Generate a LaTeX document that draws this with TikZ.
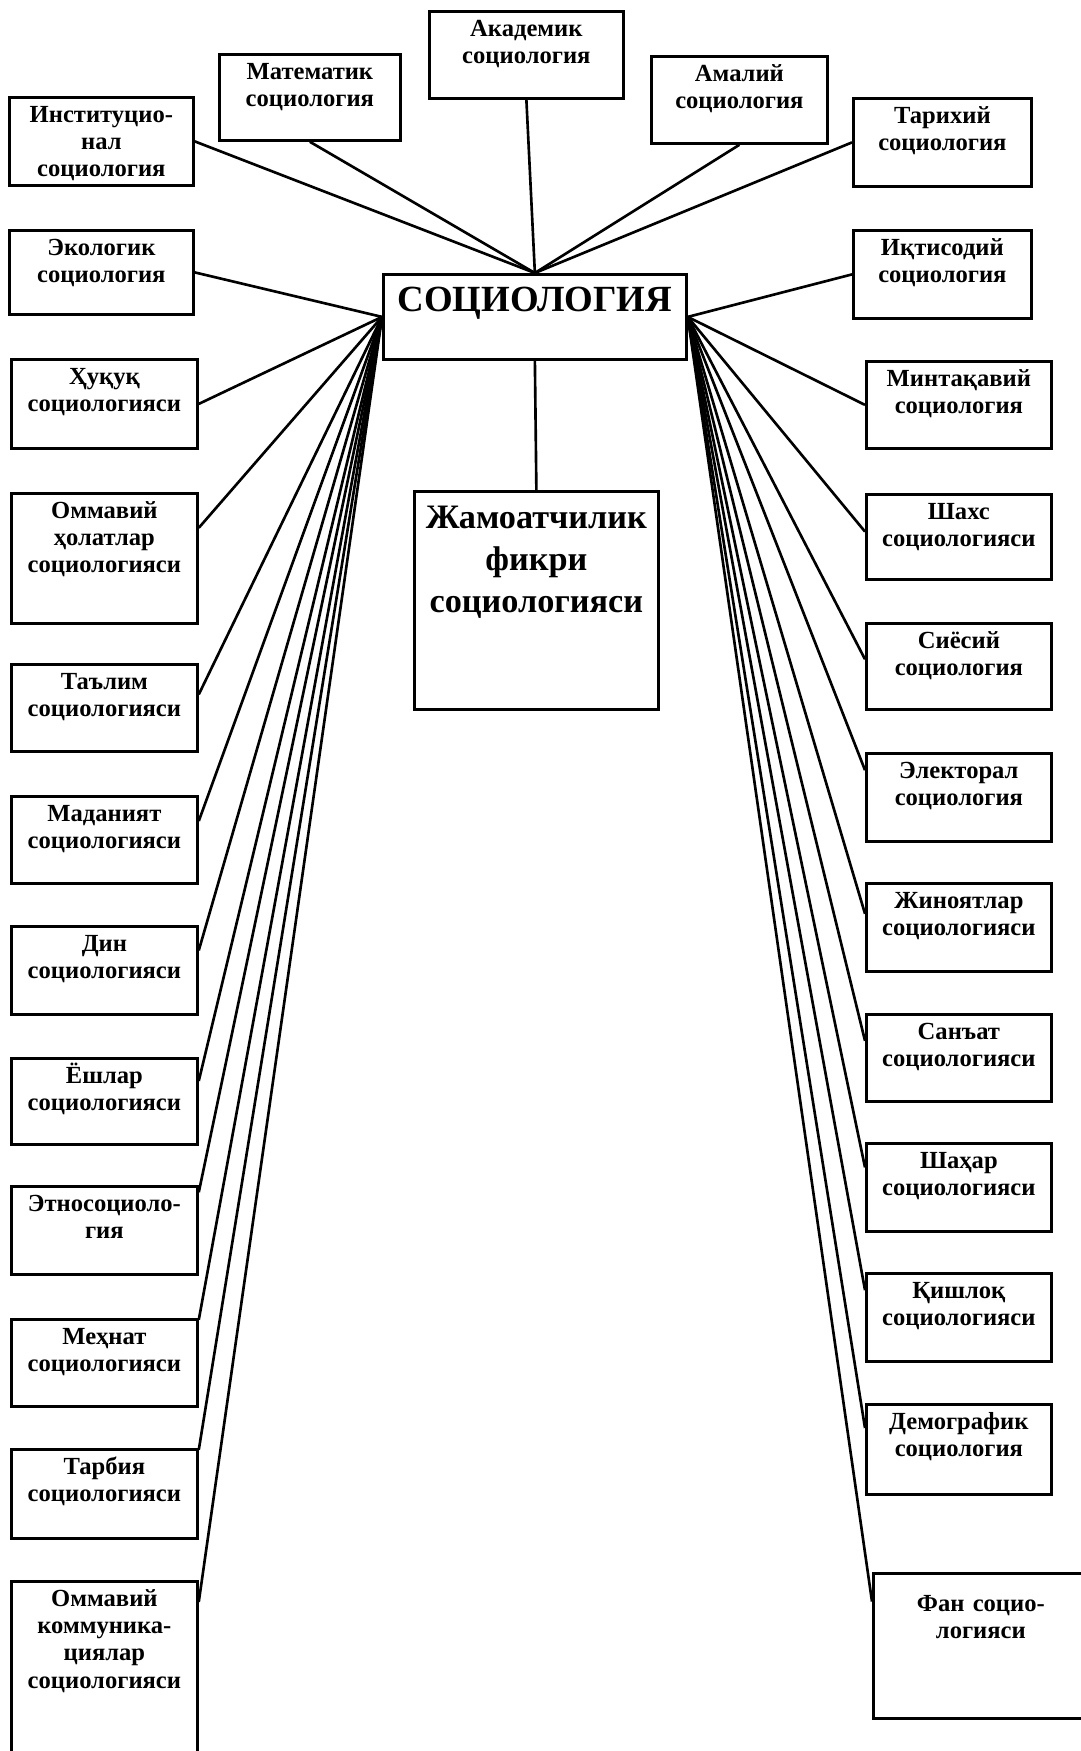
\documentclass[tikz,border=0pt]{standalone}
\usepackage{fontspec}
\setmainfont{Liberation Serif}
\usepackage{tikz}
\usetikzlibrary{calc}
\tikzstyle{sbox} = [draw, line width=1.6pt, anchor=north west, inner sep=0pt, align=center, text height=5mm, font=\bfseries\fontsize{14}{15.5}\selectfont]
\tikzstyle{line} = [-, line width=1.5pt]

\begin{document}
\begin{tikzpicture}[x=0.02cm, y=-0.02cm]
        \useasboundingbox (0,0) rectangle (1081,1751);

        % Main box
        \node[sbox, text width=6.06cm, text height=7.4mm, text depth=9.6mm, font=\bfseries\fontsize{21}{24}\selectfont] (soc) at (382,273) {СОЦИОЛОГИЯ};
        \node[sbox, text width=4.88cm, text height=7.4mm, text depth=36.2mm, font=\bfseries\fontsize{19.5}{24}\selectfont] (jam) at (413,490) {Жамоатчилик\\фикри\\социологияси};

        % Top boxes
        \node[sbox, text width=3.88cm, text depth=12.4mm] (aka) at (428,10) {Академик\\социология};
        \node[sbox, text width=3.62cm, text depth=12.2mm] (mat) at (218,53) {Математик\\социология};
        \node[sbox, text width=3.52cm, text depth=12.4mm] (ama) at (650,55) {Амалий\\социология};
        \node[sbox, text width=3.68cm, text depth=12.6mm] (ins) at (8,96) {Институцио-\\нал\\социология};
        \node[sbox, text width=3.56cm, text depth=12.6mm] (tar) at (852,97) {Тарихий\\социология};
        \node[sbox, text width=3.68cm, text depth=11.8mm] (eko) at (8,229) {Экологик\\социология};
        \node[sbox, text width=3.56cm, text depth=12.6mm] (iqt) at (852,229) {Иқтисодий\\социология};

        % Left column
        \node[sbox, text width=3.72cm, text depth=12.8mm] (huq) at (10,358) {Ҳуқуқ\\социологияси};
        \node[sbox, text width=3.72cm, text depth=21.0mm] (omm) at (10,492) {Оммавий\\ҳолатлар\\социологияси};
        \node[sbox, text width=3.72cm, text depth=12.4mm] (tal) at (10,663) {Таълим\\социологияси};
        \node[sbox, text width=3.72cm, text depth=12.4mm] (mad) at (10,795) {Маданият\\социологияси};
        \node[sbox, text width=3.72cm, text depth=12.6mm] (din) at (10,925) {Дин\\социологияси};
        \node[sbox, text width=3.72cm, text depth=12.2mm] (yos) at (10,1057) {Ёшлар\\социологияси};
        \node[sbox, text width=3.72cm, text depth=12.6mm] (etn) at (10,1185) {Этносоциоло-\\гия};
        \node[sbox, text width=3.72cm, text depth=12.4mm] (meh) at (10,1318) {Меҳнат\\социологияси};
        \node[sbox, text width=3.72cm, text depth=12.8mm] (tarb) at (10,1448) {Тарбия\\социологияси};
        \node[sbox, text width=3.72cm, text depth=31.0mm] (kom) at (10,1580) {Оммавий\\коммуника-\\циялар\\социологияси};

        % Right column
        \node[sbox, text width=3.70cm, text depth=12.4mm] (min) at (865,360) {Минтақавий\\социология};
        \node[sbox, text width=3.70cm, text depth=12.0mm] (sha) at (865,493) {Шахс\\социологияси};
        \node[sbox, text width=3.70cm, text depth=12.2mm] (siy) at (865,622) {Сиёсий\\социология};
        \node[sbox, text width=3.70cm, text depth=12.6mm] (ele) at (865,752) {Электорал\\социология};
        \node[sbox, text width=3.70cm, text depth=12.6mm] (jin) at (865,882) {Жиноятлар\\социологияси};
        \node[sbox, text width=3.70cm, text depth=12.4mm] (san) at (865,1013) {Санъат\\социологияси};
        \node[sbox, text width=3.70cm, text depth=12.6mm] (shah) at (865,1142) {Шаҳар\\социологияси};
        \node[sbox, text width=3.70cm, text depth=12.6mm] (qis) at (865,1272) {Қишлоқ\\социологияси};
        \node[sbox, text width=3.70cm, text depth=13.0mm] (dem) at (865,1403) {Демографик\\социология};
        \node[sbox, text width=4.30cm, text height=7.6mm, text depth=21.4mm] (fan) at (872,1572) {Фан социо-\\логияси};

        % Top connections
        \draw[line] (aka.south) -- (soc.north);
        \draw[line] (mat.south) -- (soc.north);
        \draw[line] (ama.south) -- (soc.north);
        \draw[line] (ins.east) -- (soc.north);
        \draw[line] (tar.west) -- (soc.north);
        \draw[line] (soc.south) -- (jam.north);

        % Left connections
        \draw[line] (eko.east) -- (soc.west);
        \draw[line] (huq.east) -- (soc.west);
        \draw[line] ($(omm.north east)!0.27!(omm.south east)$) -- (soc.west);
        \draw[line] ($(tal.north east)!0.35!(tal.south east)$) -- (soc.west);
        \draw[line] ($(mad.north east)!0.29!(mad.south east)$) -- (soc.west);
        \draw[line] ($(din.north east)!0.28!(din.south east)$) -- (soc.west);
        \draw[line] ($(yos.north east)!0.27!(yos.south east)$) -- (soc.west);
        \draw[line] ($(etn.north east)!0.08!(etn.south east)$) -- (soc.west);
        \draw[line] ($(meh.north east)!0.02!(meh.south east)$) -- (soc.west);
        \draw[line] ($(tarb.north east)!0.02!(tarb.south east)$) -- (soc.west);
        \draw[line] ($(kom.north east)!0.12!(kom.south east)$) -- (soc.west);

        % Right connections
        \draw[line] (iqt.west) -- (soc.east);
        \draw[line] (min.west) -- (soc.east);
        \draw[line] ($(sha.north west)!0.44!(sha.south west)$) -- (soc.east);
        \draw[line] ($(siy.north west)!0.42!(siy.south west)$) -- (soc.east);
        \draw[line] ($(ele.north west)!0.2!(ele.south west)$) -- (soc.east);
        \draw[line] ($(jin.north west)!0.35!(jin.south west)$) -- (soc.east);
        \draw[line] ($(san.north west)!0.31!(san.south west)$) -- (soc.east);
        \draw[line] ($(shah.north west)!0.28!(shah.south west)$) -- (soc.east);
        \draw[line] ($(qis.north west)!0.2!(qis.south west)$) -- (soc.east);
        \draw[line] ($(dem.north west)!0.27!(dem.south west)$) -- (soc.east);
        \draw[line] ($(fan.north west)!0.2!(fan.south west)$) -- (soc.east);
    \end{tikzpicture}
\end{document}
